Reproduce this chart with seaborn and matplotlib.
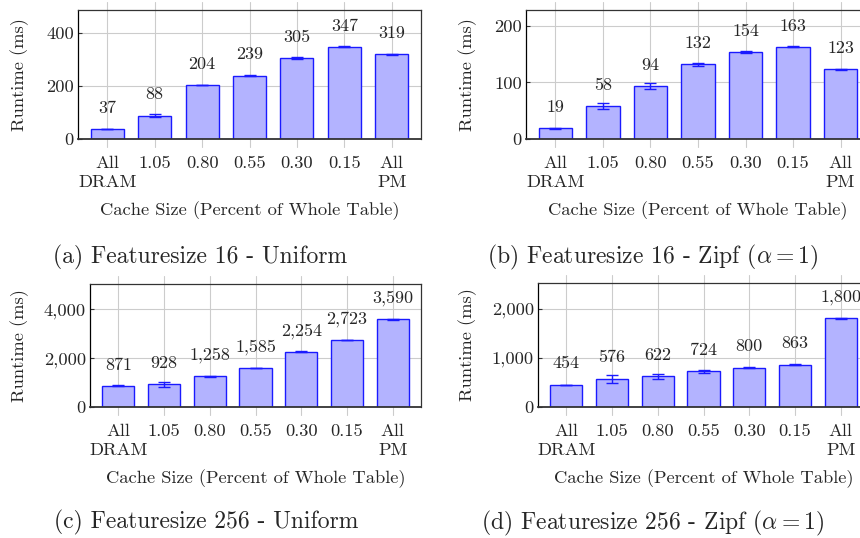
import matplotlib
matplotlib.use("Agg")
import matplotlib.pyplot as plt
import seaborn as sns
from matplotlib.ticker import FuncFormatter, MultipleLocator

# Cache size categories (shared by all four panels)
categories = ["All\nDRAM", "1.05", "0.80", "0.55", "0.30", "0.15", "All\nPM"]

# Runtime (ms) and error estimates per panel
fs16_uniform = [37, 88, 204, 239, 305, 347, 319]
fs16_uniform_err = [1, 5, 1, 1, 2, 2, 1]
fs16_zipf = [19, 58, 94, 132, 154, 163, 123]
fs16_zipf_err = [0.5, 5, 5, 3, 1, 1, 1]
fs256_uniform = [871, 928, 1258, 1585, 2254, 2723, 3590]
fs256_uniform_err = [8, 95, 15, 10, 20, 5, 25]
fs256_zipf = [454, 576, 622, 724, 800, 863, 1800]
fs256_zipf_err = [3, 80, 45, 30, 5, 8, 10]

captions = [
    "(a) Featuresize 16 - Uniform",
    r"(b) Featuresize 16 - Zipf ($\alpha = 1$)",
    "(c) Featuresize 256 - Uniform",
    r"(d) Featuresize 256 - Zipf ($\alpha = 1$)",
]
ytick_steps = [200, 100, 2000, 1000]

BAR_FILL = "#b3b3ff"
BAR_EDGE = "#1a1aff"
GRID = "#cccccc"

sns.set_style("white")
plt.rcParams["font.family"] = ["cmr10", "DejaVu Serif"]
plt.rcParams["mathtext.fontset"] = "cm"
plt.rcParams["axes.formatter.use_mathtext"] = True

W, H = 860, 538
fig = plt.figure(figsize=(W / 100, H / 100), dpi=100)

# panel boxes in pixels: left, right, top, bottom (right panels run off the page)
boxes = [(78, 421, 10, 139), (526, 870, 10, 139),
         (90, 421, 284, 407), (538, 869, 283, 407)]
caption_pos = [(200, 257), (653, 257), (206, 522), (653, 523)]
ylabel_x = [20, 468, 20, 468]

panels = [(fs16_uniform, fs16_uniform_err), (fs16_zipf, fs16_zipf_err),
          (fs256_uniform, fs256_uniform_err), (fs256_zipf, fs256_zipf_err)]

for k, (vals, errs) in enumerate(panels):
    l, r, t, b = boxes[k]
    ax = fig.add_axes([l / W, 1 - b / H, (r - l) / W, (b - t) / H])
    hpx = b - t

    sns.barplot(x=categories, y=vals, ax=ax, color=BAR_FILL, saturation=1,
                edgecolor=BAR_EDGE, linewidth=1.0, width=0.7, errorbar=None, zorder=2)
    xs = range(len(vals))
    ax.errorbar(xs, vals, yerr=errs, fmt="none", ecolor=BAR_EDGE,
                elinewidth=1.0, capsize=4.5, capthick=1.0, zorder=3)

    # grid: vertical lines poke out of the frame like pgfplots
    ext = 8 / hpx
    for x in xs:
        ax.axvline(x, ymin=-ext, ymax=1 + ext, color=GRID, lw=0.8,
                   clip_on=False, zorder=0.5)
    ax.yaxis.grid(True, color=GRID, lw=0.8, zorder=0.5)
    ax.set_axisbelow(True)

    ax.set_xlim(-0.62, len(vals) - 1 + 0.62)
    ax.set_ylim(0, max(vals) * 1.4)
    ax.yaxis.set_major_locator(MultipleLocator(ytick_steps[k]))
    ax.yaxis.set_major_formatter(FuncFormatter(lambda v, p: f"{v:,.0f}"))

    for x, v in zip(xs, vals):
        ax.annotate(f"{v:,}", (x, v), xytext=(0, 15), textcoords="offset points",
                    ha="center", va="center", fontsize=13, zorder=4)

    ax.tick_params(axis="x", length=0, pad=12, labelsize=13.3)
    ax.tick_params(axis="y", direction="in", length=3, width=0.8,
                   color="#333333", left=True, pad=3, labelsize=13.3)
    for lab in ax.get_xticklabels():
        lab.set_linespacing(1.27)
        lab.set_multialignment("center")

    for side, sp in ax.spines.items():
        sp.set_color("#333333")
        sp.set_linewidth(0.9)
    ax.spines["bottom"].set_linewidth(1.3)
    ax.spines["left"].set_color("black")

    ax.set_xlabel("Cache Size (Percent of Whole Table)", fontsize=13.3)
    ax.xaxis.set_label_coords(0.5, -72 / hpx)
    ax.xaxis.label.set_va("center")
    ax.set_ylabel("Runtime (ms)", fontsize=13.3)
    ax.yaxis.set_label_coords((ylabel_x[k] - l) / (r - l), 0.5)
    ax.yaxis.label.set_va("center")

    cx, cy = caption_pos[k]
    fig.text(cx / W, 1 - cy / H, captions[k], ha="center", va="center", fontsize=17)

fig.savefig("out.png", dpi=100)
